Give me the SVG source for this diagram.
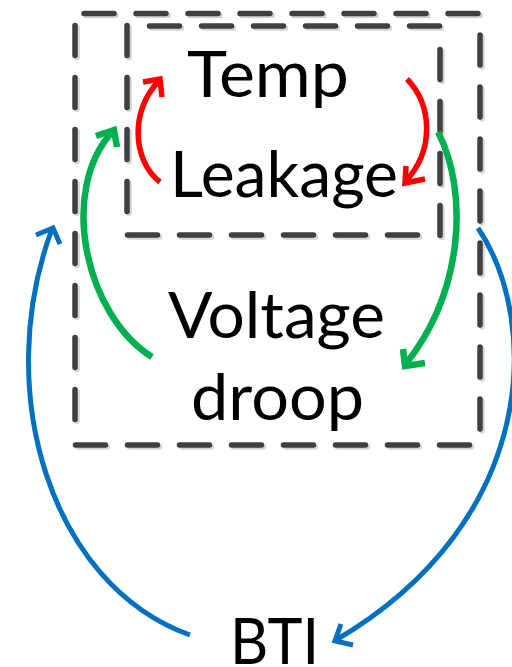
<svg xmlns="http://www.w3.org/2000/svg" xmlns:xlink="http://www.w3.org/1999/xlink" width="512" height="667" viewBox="0 0 512 667">
<style>
.frame line{stroke-width:5.5;stroke-dasharray:30 22;stroke-linecap:round;fill:none}
.dark{stroke:#404040}
.shade{stroke:#d4d4d4}
.lbl{font-family:Lato,"Open Sans","Liberation Sans",sans-serif;font-size:63px;fill:#000}
.c{fill:none;stroke-linejoin:miter;stroke-linecap:butt}
.red{stroke:#FF0000;stroke-width:5.5}
.green{stroke:#00B050;stroke-width:6.5}
.blue{stroke:#0070C0;stroke-width:5}
</style>
<defs>
<g id="frames" class="frame">
<g id="outerBox">
<line x1="84" y1="13.5" x2="482" y2="13.5"/>
<line x1="480" y1="35" x2="480" y2="432"/>
<line x1="75.5" y1="445" x2="476" y2="445"/>
<line x1="75" y1="25.5" x2="75" y2="422"/>
</g>
<g id="innerBox">
<line x1="149.5" y1="26" x2="442" y2="26"/>
<line x1="440" y1="49.5" x2="440" y2="238"/>
<line x1="127.5" y1="235" x2="420" y2="235"/>
<line x1="127" y1="25.5" x2="127" y2="214"/>
</g>
</g>
</defs>
<g id="boxes">
<use xlink:href="#frames" class="shade" transform="translate(2,2)"/>
<use xlink:href="#frames" class="dark"/>
</g>
<g id="connectors">
<g id="temp-leakage">
<path class="c red" d="M160,182 C132,160 130,110 159,81"/>
<path class="c red" d="M143,82 L160,79 L162,97"/>
</g>
<g id="leakage-temp">
<path class="c red" d="M407,79 C432,105 435,150 405,182"/>
<path class="c red" d="M406,166 L405,183 L425,179"/>
</g>
<g id="voltage-temp">
<path class="c green" d="M152,357 C85,315 58,190 113,131"/>
<path class="c green" d="M96,136 L114,130 L117,147"/>
</g>
<g id="leakage-voltage">
<path class="c green" d="M438,132 C468,190 465,290 405,365"/>
<path class="c green" d="M403,349 L405,366 L425,363"/>
</g>
<g id="bti-box">
<path class="c blue" d="M190,635 C50,585 -8,390 52,229"/>
<path class="c blue" d="M36,235 L53,228 L60,244"/>
</g>
<g id="box-bti">
<path class="c blue" d="M478,228 C540,320 540,520 336,640"/>
<path class="c blue" d="M341,624 L335,641 L353,645"/>
</g>
</g>
<g id="node-temp"><text class="lbl" x="187" y="97" textLength="162" lengthAdjust="spacingAndGlyphs">Temp</text></g>
<g id="node-leakage"><text class="lbl" x="170" y="197" textLength="228" lengthAdjust="spacingAndGlyphs">Leakage</text></g>
<g id="node-voltage"><text class="lbl" x="168" y="338" textLength="217" lengthAdjust="spacingAndGlyphs">Voltage</text><text class="lbl" x="191" y="420" textLength="173" lengthAdjust="spacingAndGlyphs">droop</text></g>
<g id="node-bti"><text class="lbl" x="230" y="664" textLength="89" lengthAdjust="spacingAndGlyphs">BTI</text></g>
</svg>
